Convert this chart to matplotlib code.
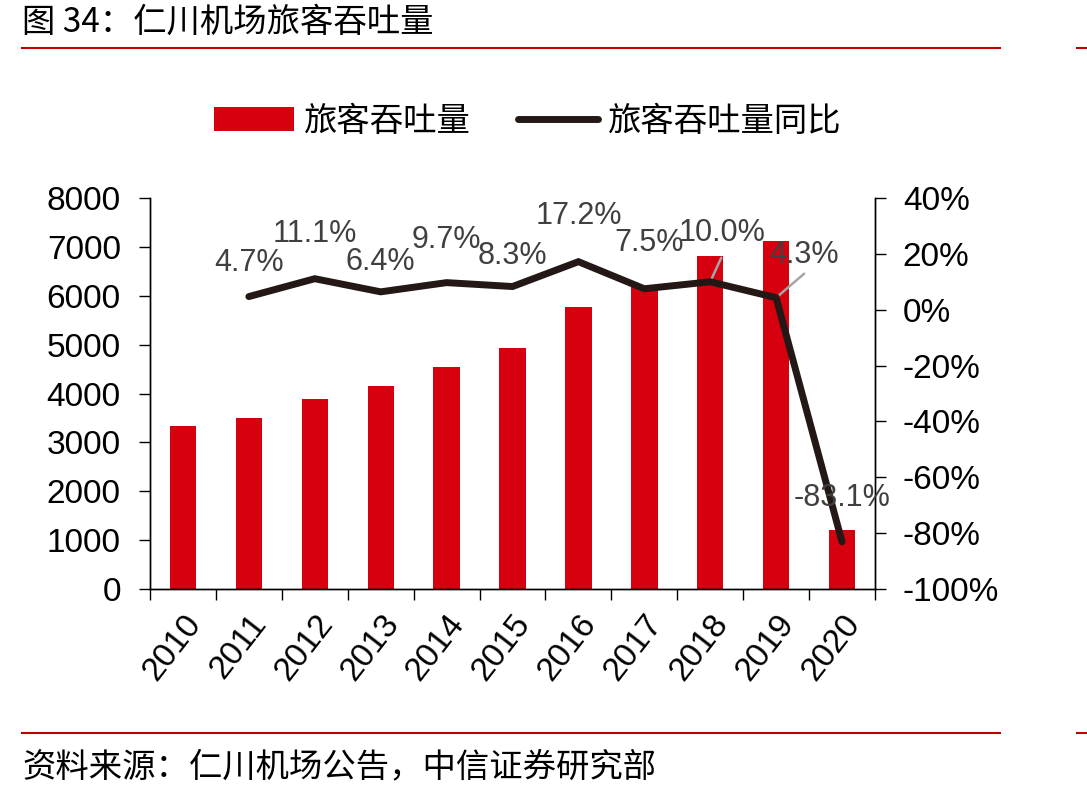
import matplotlib
matplotlib.use("Agg")
import matplotlib.pyplot as plt
from matplotlib.lines import Line2D
from matplotlib.patches import Patch

plt.rcParams['font.family'] = ['Liberation Sans', 'Noto Sans CJK SC', 'DejaVu Sans']

years = ['2010', '2011', '2012', '2013', '2014', '2015', '2016', '2017', '2018', '2019', '2020']
passengers = [3330, 3500, 3890, 4150, 4540, 4930, 5770, 6200, 6810, 7120, 1210]
yoy_years = ['2011', '2012', '2013', '2014', '2015', '2016', '2017', '2018', '2019', '2020']
yoy = [4.7, 11.1, 6.4, 9.7, 8.3, 17.2, 7.5, 10.0, 4.3, -83.1]
yoy_labels = ['4.7%', '11.1%', '6.4%', '9.7%', '8.3%', '17.2%', '7.5%', '10.0%', '4.3%', '-83.1%']
left_ticks = [0, 1000, 2000, 3000, 4000, 5000, 6000, 7000, 8000]
right_ticks = [-100, -80, -60, -40, -20, 0, 20, 40]

BAR = '#D7000F'
LINE = '#231815'
GRAY = '#404040'
CJK = ['Noto Sans CJK SC', 'DejaVu Sans']

fig = plt.figure(figsize=(10.87, 7.97), dpi=100)
ax = fig.add_axes([150/1087, 1-589/797, 725/1087, 391/797])
ax2 = ax.twinx()

x = list(range(len(years)))
ax.bar(x, passengers, width=0.4, color=BAR, zorder=2)
ax.set_xlim(-0.5, len(years)-0.5)
ax.set_ylim(0, 8000)
ax.set_yticks(left_ticks)
ax.set_yticklabels([str(v) for v in left_ticks])
ax.set_xticks([i - 0.5 for i in range(len(years)+1)], minor=False)
ax.set_xticklabels([''] * (len(years)+1))
ax.set_xticks(x, minor=True)
ax.set_xticklabels(years, minor=True, rotation=52, ha='right', rotation_mode='anchor', fontsize=24)
ax.tick_params(axis='x', which='minor', length=0, pad=14)
ax.tick_params(axis='x', which='major', length=8, width=1, direction='out')
ax.tick_params(axis='y', length=8, width=1, direction='out', labelsize=24, pad=13)

xi = [years.index(y) for y in yoy_years]
ax2.plot(xi, yoy, color=LINE, lw=5, solid_capstyle='round', solid_joinstyle='miter', zorder=3)
ax2.set_ylim(-100, 40)
ax2.set_yticks(right_ticks)
ax2.set_yticklabels([f'{v}%' for v in right_ticks])
ax2.tick_params(axis='y', length=8, width=1, direction='out', labelsize=24, pad=12)

for a in (ax, ax2):
    a.spines['top'].set_visible(False)
    for s in ('left', 'right', 'bottom'):
        a.spines[s].set_linewidth(1)
        a.spines[s].set_color('black')

# label offsets in pixels (dx, dy) from data points
offsets = [(0, 34), (0, 45), (0, 30), (0, 43), (0, 31), (0, 46), (5, 46), (12, 49), (28, 43), (0, 44)]
leaders = [None, None, None, None, None, None, None, (11, 24), (28, 24), None]
for i, (xv, yv, lab) in enumerate(zip(xi, yoy, yoy_labels)):
    dx, dy = offsets[i]
    ax2.annotate(lab, (xv, yv), xytext=(dx*0.72, dy*0.72), textcoords='offset points',
                 ha='center', va='center', fontsize=22, color=GRAY, zorder=4)
    if leaders[i] is not None:
        lx, ly = leaders[i]
        ax2.annotate('', (xv, yv), xytext=(lx*0.72, ly*0.72), textcoords='offset points',
                     arrowprops=dict(arrowstyle='-', color='#A6A6A6', lw=1.8, shrinkA=0, shrinkB=0),
                     zorder=2.5)

handles = [Patch(facecolor=BAR, edgecolor='none'),
           Line2D([0], [0], color=LINE, lw=5, solid_capstyle='round')]
fig.legend(handles, ['旅客吞吐量', '旅客吞吐量同比'], loc='center', bbox_to_anchor=(528/1087, 1-121/797),
           ncol=2, frameon=False, prop={'family': CJK, 'size': 24}, handlelength=2.4, handleheight=0.75,
           columnspacing=1.4, handletextpad=0.3)

fig.text(22/1087, 1-22/797, '图 34：仁川机场旅客吞吐量', family=CJK, fontsize=24, va='center', ha='left')
fig.add_artist(Line2D([22/1087, 1000/1087], [1-48/797, 1-48/797], color='#C00000', lw=1.5))
fig.add_artist(Line2D([1077/1087, 1], [1-48/797, 1-48/797], color='#C00000', lw=1.5))
fig.add_artist(Line2D([22/1087, 1000/1087], [1-733/797, 1-733/797], color='#C00000', lw=1.5))
fig.add_artist(Line2D([1077/1087, 1], [1-733/797, 1-733/797], color='#C00000', lw=1.5))
fig.text(22/1087, 1-767/797, '资料来源：仁川机场公告，中信证券研究部', family=CJK, fontsize=24, va='center', ha='left')

fig.savefig('out.png', dpi=100)
